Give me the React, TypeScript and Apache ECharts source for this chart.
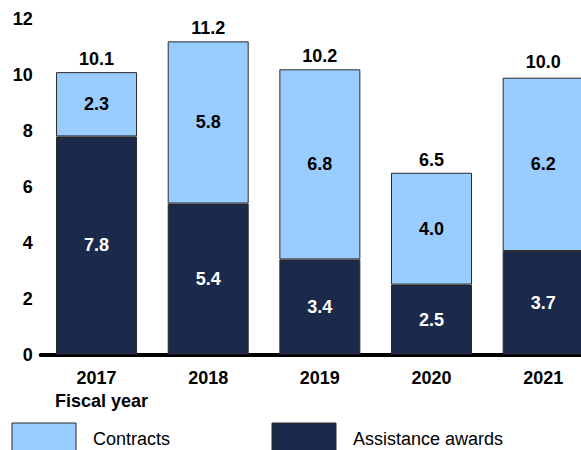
import React, { useEffect, useRef } from "react";
import * as echarts from "echarts";

const years = ["2017", "2018", "2019", "2020", "2021"];
const assistance = [7.8, 5.4, 3.4, 2.5, 3.7];
const contracts = [2.3, 5.8, 6.8, 4.0, 6.2];
const totals = [10.1, 11.2, 10.2, 6.5, 10.0];
const yTicks = { min: 0, max: 12, interval: 2 };
const legendNames = ["Contracts", "Assistance awards"];

const FONT = "'Liberation Sans', Arial, sans-serif";
const DARK = "#1b2a4b";
const LIGHT = "#99ccff";
const BORDER = "#2b2b2b";

export default function App() {
  const ref = useRef<HTMLDivElement>(null);
  useEffect(() => {
    if (!ref.current) return;
    const chart = echarts.init(ref.current, null, { renderer: "svg" });
    const legendColors = [LIGHT, DARK];
    const legendX = [12, 272];
    const legendGraphics: any[] = [];
    legendNames.forEach((n, i) => {
      legendGraphics.push({
        type: "rect",
        shape: { x: legendX[i], y: 423, width: 64, height: 40 },
        style: { fill: legendColors[i], stroke: BORDER, lineWidth: 1 },
      });
      legendGraphics.push({
        type: "text",
        x: legendX[i] + 81,
        y: 439,
        style: {
          text: n,
          fontSize: 18,
          fill: "#000",
          fontFamily: FONT,
          textVerticalAlign: "middle",
          verticalAlign: "middle",
        },
      });
    });
    chart.setOption({
      animation: false,
      textStyle: { fontFamily: FONT },
      grid: { left: 40.7, right: 0, top: 19, bottom: 95.5, containLabel: false },
      graphic: [
        {
          type: "text",
          left: 55,
          top: 392,
          style: { text: "Fiscal year", fontSize: 18, fontWeight: "bold", fill: "#000", fontFamily: FONT },
        },
        ...legendGraphics,
      ],
      xAxis: {
        type: "category",
        data: years,
        axisLine: { lineStyle: { color: "#000", width: 4 } },
        axisTick: { show: false },
        axisLabel: { fontSize: 18, fontWeight: "bold", color: "#000", margin: 14, fontFamily: FONT },
      },
      yAxis: {
        type: "value",
        min: yTicks.min,
        max: yTicks.max,
        interval: yTicks.interval,
        axisLine: { show: false },
        axisTick: { show: false },
        splitLine: { show: false },
        axisLabel: { fontSize: 18, fontWeight: "bold", color: "#000", margin: 8, fontFamily: FONT },
      },
      series: [
        {
          name: "Assistance awards",
          type: "bar",
          stack: "total",
          data: assistance,
          barWidth: 81,
          itemStyle: { color: DARK, borderColor: BORDER, borderWidth: 1 },
          label: {
            show: true,
            position: "inside",
            color: "#fff",
            fontSize: 18,
            fontWeight: "bold",
            fontFamily: FONT,
            formatter: (p: any) => Number(p.value).toFixed(1),
          },
        },
        {
          name: "Contracts",
          type: "bar",
          stack: "total",
          data: contracts,
          barWidth: 81,
          itemStyle: { color: LIGHT, borderColor: BORDER, borderWidth: 1 },
          label: {
            show: true,
            position: "inside",
            color: "#000",
            fontSize: 18,
            fontWeight: "bold",
            fontFamily: FONT,
            formatter: (p: any) => Number(p.value).toFixed(1),
          },
        },
        {
          name: "Total",
          type: "scatter",
          data: totals,
          symbolSize: 0,
          silent: true,
          z: 10,
          itemStyle: { opacity: 1 },
          label: {
            show: true,
            position: "top",
            distance: 4,
            color: "#000",
            fontSize: 18,
            fontWeight: "bold",
            fontFamily: FONT,
            formatter: (p: any) => Number(p.value).toFixed(1),
          },
        },
      ],
    });
    return () => chart.dispose();
  }, []);
  return (
    <div style={{ width: 581, height: 450, position: "absolute", left: 0, top: 0, overflow: "hidden" }}>
      <div ref={ref} style={{ width: 599, height: 450 }} />
    </div>
  );
}
